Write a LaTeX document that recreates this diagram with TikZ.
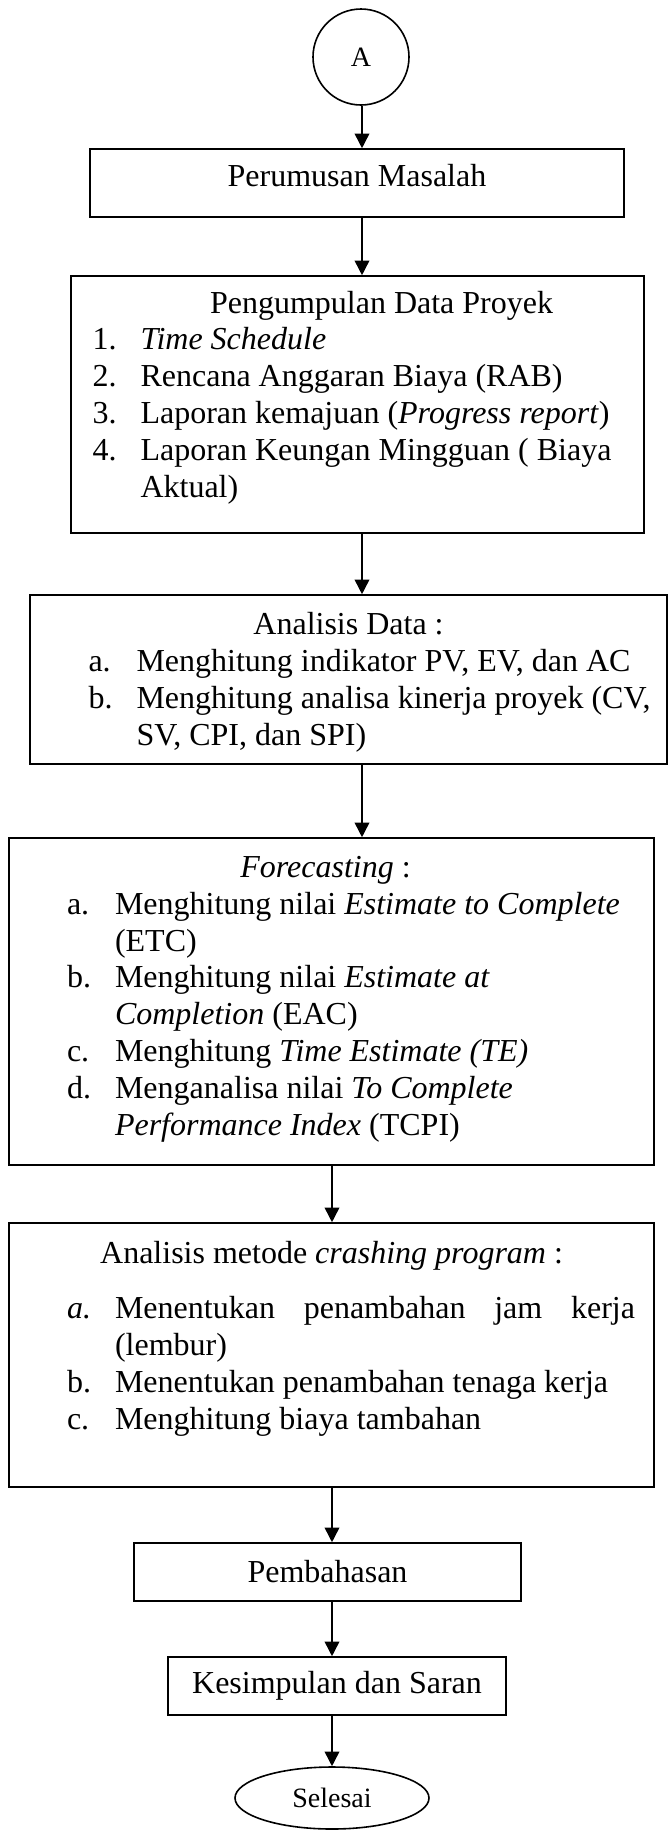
\documentclass[tikz,border=0pt]{standalone}
\usepackage{fontspec}
\setmainfont{Liberation Serif}
\usetikzlibrary{positioning,shapes.geometric,arrows.meta}
\newcommand{\px}{0.375pt}
\newcommand{\itm}[2]{\makebox[18pt][l]{#1}#2}
\tikzset{
  box/.style={draw=black,line width=0.6pt,inner sep=0pt},
  term/.style={draw=black,line width=0.6pt,inner sep=0pt,font=\fontsize{10.5}{12}\selectfont},
  flow/.style={draw=black,line width=0.6pt,-{Triangle[length=5.5pt,width=5.5pt]}},
  txt/.style={inner sep=0pt,align=left,anchor=base west},
}

\begin{document}
\begin{tikzpicture}[x=\px,y=-\px,every node/.append style={font=\fontsize{12}{13.8}\selectfont}]
  \useasboundingbox (0,0) rectangle (670,1830);
  \coordinate (top) at (362,0);
  \coordinate (low) at (332,0);
  \node[term,circle,minimum size=96*\px] (a) at (361,57) {A};
  \node[box,minimum width=534*\px,minimum height=68*\px,text depth=6pt] (per) at (357,183) {Perumusan Masalah};
  % list boxes: text anchored at the baseline of its last line
  \node[box,minimum width=573*\px,minimum height=257*\px] (peng) at (357.5,404.5) {};
  \node[txt] (peng-t) at (92,497) {\makebox[216.75pt][c]{Pengumpulan Data Proyek}\\
    \itm{1.}{\textit{Time Schedule}}\\
    \itm{2.}{Rencana Anggaran Biaya (RAB)}\\
    \itm{3.}{Laporan kemajuan (\textit{Progress report})}\\
    \itm{4.}{Laporan Keungan Mingguan ( Biaya}\\
    \hspace*{18pt}Aktual)};
  \node[box,minimum width=637*\px,minimum height=169*\px] (ana) at (348.5,679.5) {};
  \node[txt] (ana-t) at (88,745) {\makebox[195pt][c]{Analisis Data :}\\
    \itm{a.}{Menghitung indikator PV, EV, dan AC}\\
    \itm{b.}{Menghitung analisa kinerja proyek (CV,}\\
    \hspace*{18pt}SV, CPI, dan SPI)};
  \node[box,minimum width=645*\px,minimum height=327*\px] (fore) at (331.5,1001.5) {};
  \node[txt] (fore-t) at (66.5,1135) {\makebox[193.9pt][c]{\textit{Forecasting} :}\\
    \itm{a.}{Menghitung nilai \textit{Estimate to Complete}}\\
    \hspace*{18pt}(ETC)\\
    \itm{b.}{Menghitung nilai \textit{Estimate at}}\\
    \hspace*{18pt}\textit{Completion} (EAC)\\
    \itm{c.}{Menghitung \textit{Time Estimate (TE)}}\\
    \itm{d.}{Menganalisa nilai \textit{To Complete}}\\
    \hspace*{18pt}\textit{Performance Index} (TCPI)};
  \node[box,minimum width=645*\px,minimum height=264*\px] (crash) at (331.5,1355) {};
  \node[txt] (crash-t) at (66.5,1429) {\makebox[198.4pt][c]{Analisis metode \textit{crashing program} :}\\[6.75pt]
    \itm{\textit{a.}}{\hbox to 195pt{Menentukan\hfill penambahan\hfill jam\hfill kerja}}\\
    \hspace*{18pt}(lembur)\\
    \itm{b.}{Menentukan penambahan tenaga kerja}\\
    \itm{c.}{Menghitung biaya tambahan}};
  \node[box,minimum width=387*\px,minimum height=58*\px] (pem) at (327.5,1572) {Pembahasan};
  \node[box,minimum width=338*\px,minimum height=58*\px] (kes) at (337,1686) {Kesimpulan dan Saran};
  \node[term,ellipse,minimum width=194*\px,minimum height=62*\px] (sel) at (332,1798) {Selesai};
  \foreach \i/\j in {a/per,per/peng,peng/ana,ana/fore}
    \draw[flow] (\i.south -| top) -- (\j.north -| top);
  \foreach \i/\j in {fore/crash,crash/pem,pem/kes,kes/sel}
    \draw[flow] (\i.south -| low) -- (\j.north -| low);
\end{tikzpicture}
\end{document}
